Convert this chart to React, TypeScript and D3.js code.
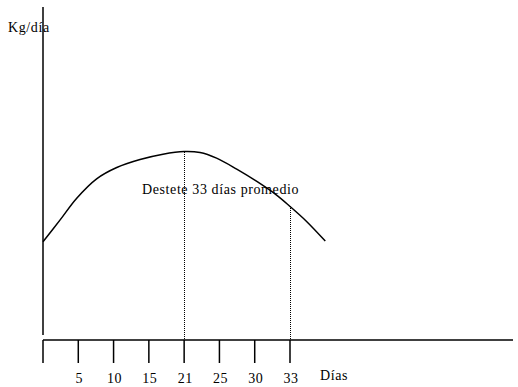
import React from "react";
import * as d3 from "d3";

// Tick marks along the day axis (evenly spaced, schematic)
const tickDays = [0, 5, 10, 15, 21, 25, 30, 33];
const tickLabels = ["", "5", "10", "15", "21", "25", "30", "33"];

// Daily gain curve: position along the tick index, value in relative kg/day units
const curveIdx = [0, 0.48, 0.95, 1.52, 2.09, 2.75, 3.4, 4, 4.45, 4.92, 5.49, 6.06, 6.62, 7, 7.47, 8];
const curveVal = [29.5, 36, 42.5, 48.4, 51.8, 54.2, 55.8, 56.6, 56.3, 54.6, 51.3, 47.6, 43.5, 40.1, 35.6, 29.7];

// Reference marks: peak at day 21 and weaning at day 33
const markIdx = [4, 7];

const W = 518;
const H = 387;
const FONT = "'Liberation Serif', 'Times New Roman', serif";

export default function App() {
  const x = d3.scaleLinear().domain([0, 7]).range([43, 290]);
  const y = d3.scaleLinear().domain([0, 100]).range([340, 7]);

  const points: [number, number][] = curveIdx.map((c, i) => [c, curveVal[i]]);
  const line = d3
    .line<[number, number]>()
    .x((d) => x(d[0]))
    .y((d) => y(d[1]))
    .curve(d3.curveCatmullRom.alpha(0.5));

  const valueAt = (idx: number) => curveVal[curveIdx.indexOf(idx)];
  const crisp = (v: number) => Math.round(v) + 0.5;

  return (
    <svg
      width={W}
      height={H}
      style={{ position: "absolute", left: 0, top: 0, background: "#fff" }}
      fontFamily={FONT}
    >
      <rect width={W} height={H} fill="#fff" />
      {/* y axis */}
      <line x1={x(0)} x2={x(0)} y1={7} y2={335} stroke="#000" strokeWidth={1.5} />
      <text x={8} y={32} fontSize={14} letterSpacing={0.6} fill="#000">
        Kg/día
      </text>

      {/* x axis */}
      <line x1={x(0)} x2={513} y1={y(0)} y2={y(0)} stroke="#000" strokeWidth={1.5} />
      {tickDays.map((d, i) => (
        <g key={d}>
          <line x1={x(i)} x2={x(i)} y1={y(0)} y2={363} stroke="#000" strokeWidth={1.5} />
          {tickLabels[i] && (
            <text
              x={x(i) + 1}
              y={383}
              fontSize={14}
              letterSpacing={0.5}
              textAnchor="middle"
              fill="#000"
            >
              {tickLabels[i]}
            </text>
          )}
        </g>
      ))}
      <text x={320} y={380} fontSize={14} letterSpacing={0.6} fill="#000">
        Días
      </text>

      {/* dotted reference lines */}
      {markIdx.map((m) => (
        <line
          key={m}
          x1={crisp(x(m))}
          x2={crisp(x(m))}
          y1={Math.round(y(valueAt(m)))}
          y2={Math.round(y(0))}
          stroke="#000"
          strokeWidth={1}
          strokeDasharray="1,1"
        />
      ))}

      {/* gain curve */}
      <path d={line(points) ?? ""} fill="none" stroke="#000" strokeWidth={1.5} />

      <text x={142} y={194} fontSize={14} letterSpacing={0.6} fill="#000">
        Destete 33 días promedio
      </text>
    </svg>
  );
}
